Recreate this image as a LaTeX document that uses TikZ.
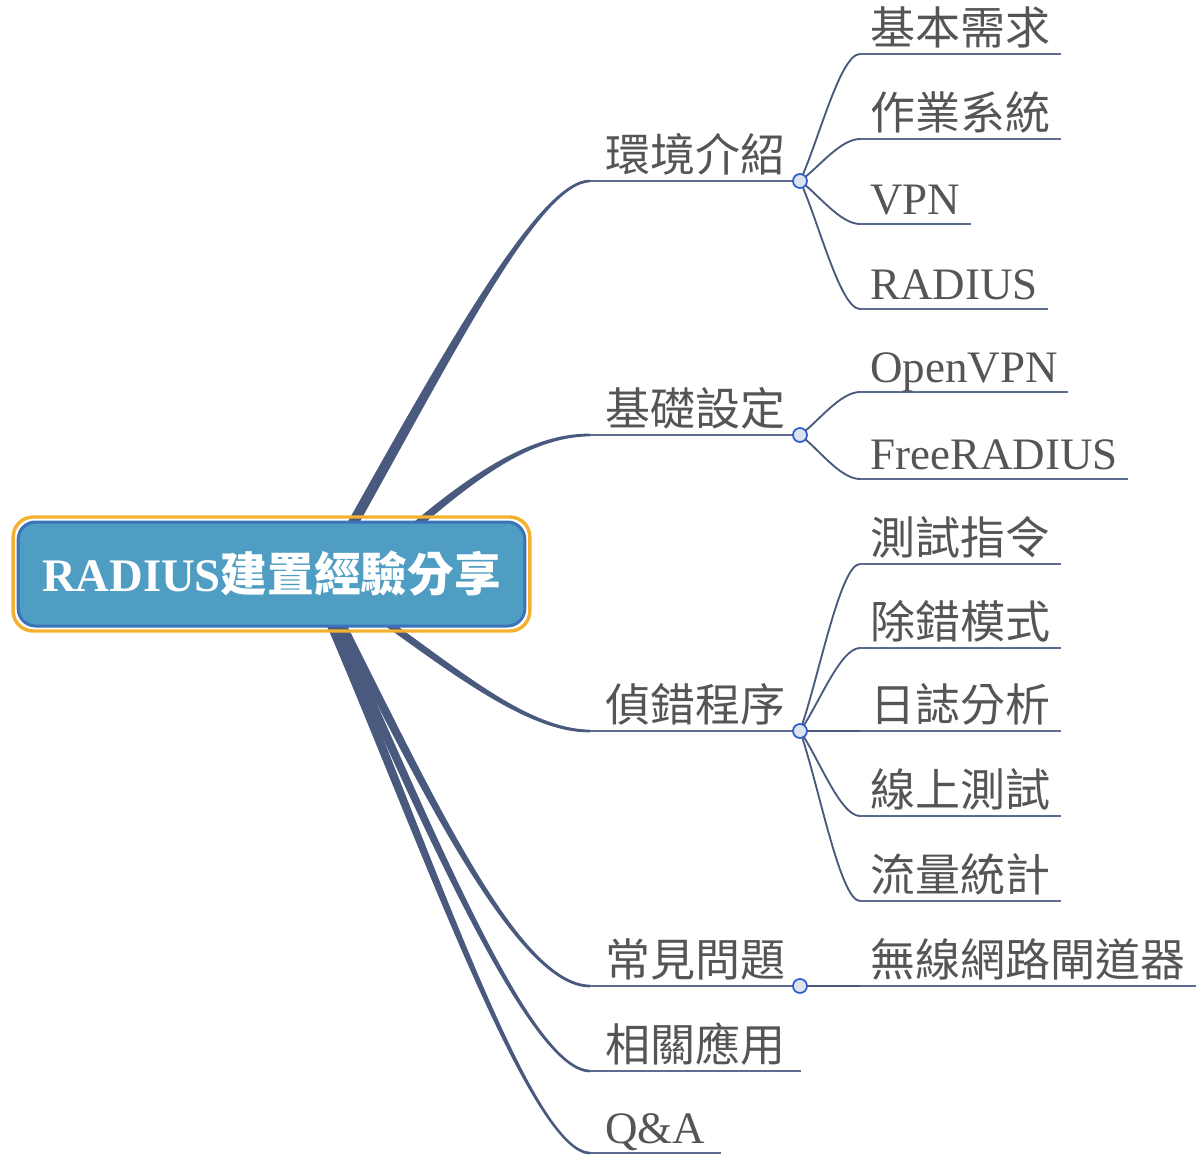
\documentclass[tikz,border=0pt]{standalone}
\usepackage{fontspec}
\setmainfont{Liberation Serif}
\newfontfamily\cjk{Noto Sans CJK TC}
\usetikzlibrary{calc,backgrounds}
\definecolor{branch}{HTML}{4A5A7E}
\definecolor{uline}{HTML}{5D6D92}
\definecolor{txt}{HTML}{555555}
\definecolor{rootfill}{HTML}{4F9DC3}
\definecolor{rootblue}{HTML}{3B72B8}
\definecolor{rootorange}{HTML}{F2B230}
\definecolor{dotfill}{HTML}{DCE2EE}
\definecolor{dotdraw}{HTML}{2F5BD0}
% tapered main branch: #1 start, #2 c1, #3 c2, #4 end, #5 start half width, #6/#7 end offsets
\newcommand\taper[7]{%
  \fill[branch] ($(#1)+(-#5,0)$) .. controls ($(#2)+(-#5*1.0,0)$) and ($(#3)+(0,#6*1.8)$) .. ($(#4)+(0,#6)$)
    -- ($(#4)+(0,#7)$) .. controls ($(#3)+(0,#7*1.8)$) and ($(#2)+(#5*1.0,0)$) .. ($(#1)+(#5,0)$) -- cycle;}
\tikzset{
  rootbox/.style={rounded corners=13pt, fill=rootfill, draw=rootblue, line width=2.25pt,
    minimum width=380pt, minimum height=78pt, inner sep=0pt, text=white,
    font=\fontsize{35}{40}\selectfont},
  lvone/.style={anchor=south west, inner xsep=11.25pt, inner ysep=0pt, text=txt,
    text height=30pt, text depth=6.75pt, font=\fontsize{33.75}{40}\selectfont},
  lvtwo/.style={anchor=south west, inner xsep=7.5pt, inner ysep=0pt, text=txt,
    text height=30pt, text depth=6.75pt, font=\fontsize{33.75}{40}\selectfont},
  dot/.style={circle, fill=dotfill, draw=dotdraw, line width=1.3pt, minimum size=10.5pt, inner sep=0pt},
  sub/.style={draw=branch, line width=1.4pt},
  ul/.style={draw=uline, line width=1.4pt},
}
\begin{document}
\begin{tikzpicture}[x=0.75pt,y=-0.75pt]
\useasboundingbox (0,0) rectangle (1202,1155);

% root
\node[rootbox] (root) at (271.5,574) {\textbf{RADIUS}{\cjk\bfseries 建置經驗分享}};
\draw[rootorange, line width=2.6pt, rounded corners=15pt]
  ([shift={(-3.5,-3.5)}]root.north west) rectangle ([shift={(3.5,3.5)}]root.south east);

% level one
\node[lvone] (m1) at (590,181) {\cjk 環境介紹};
\node[lvone] (m2) at (590,435) {\cjk 基礎設定};
\node[lvone] (m3) at (590,731) {\cjk 偵錯程序};
\node[lvone] (m4) at (590,986) {\cjk 常見問題};
\node[lvone] (m5) at (590,1071) {\cjk 相關應用};
\node[lvone] (m6) at (590,1153) {Q\&A};

\node[dot] (d1) at (800,181) {};
\node[dot] (d2) at (800,435) {};
\node[dot] (d3) at (800,731) {};
\node[dot] (d4) at (800,986) {};

% level two
\node[lvtwo] (a1) at (860,54) {\cjk 基本需求};
\node[lvtwo] (a2) at (860,139) {\cjk 作業系統};
\node[lvtwo] (a3) at (860,224) {VPN};
\node[lvtwo] (a4) at (860,309) {RADIUS};
\node[lvtwo] (b1) at (860,392) {OpenVPN};
\node[lvtwo] (b2) at (860,479) {FreeRADIUS};
\node[lvtwo] (c1) at (860,564) {\cjk 測試指令};
\node[lvtwo] (c2) at (860,648) {\cjk 除錯模式};
\node[lvtwo] (c3) at (860,731) {\cjk 日誌分析};
\node[lvtwo] (c4) at (860,816) {\cjk 線上測試};
\node[lvtwo] (c5) at (860,901) {\cjk 流量統計};
\node[lvtwo] (e1) at (860,986) {\cjk 無線網路閘道器};

\begin{pgfonlayer}{background}
  \coordinate (s1) at ($(root.north)+(77.5,10)$);
  \coordinate (s2) at ($(root.north)+(138.5,10)$);
  \coordinate (s3) at ($(root.south)+(113.5,-6)$);
  \coordinate (s4) at ($(root.south)+(68.5,-6)$);
  \coordinate (s5) at ($(root.south)+(63.5,-6)$);
  \coordinate (s6) at ($(root.south)+(58.5,-6)$);
  \taper{s1}{450,350}{540,181}{m1.south west}{6}{-1.3}{1.3}
  \taper{s2}{480,470}{535,435}{m2.south west}{6}{-1.3}{1.3}
  \taper{s3}{460,675}{530,731}{m3.south west}{6}{1.3}{-1.3}
  \taper{s4}{430,800}{520,986}{m4.south west}{5}{1.3}{-1.3}
  \taper{s5}{425,820}{530,1071}{m5.south west}{5}{1.3}{-1.3}
  \taper{s6}{420,830}{530,1153}{m6.south west}{5}{1.3}{-1.3}

  \foreach \d/\m in {d1/m1,d2/m2,d3/m3,d4/m4}
    \draw[ul] (\m.south west) -- (\d.center);
  \draw[ul] (m5.south west) -- (m5.south east);
  \draw[ul] (m6.south west) -- (m6.south east);

  \foreach \d/\n in {d1/a1,d1/a2,d1/a3,d1/a4,d2/b1,d2/b2,d3/c1,d3/c2,d3/c3,d3/c4,d3/c5,d4/e1}
    \draw[sub] (\d.center) .. controls ($(\d.center)!0.3!(\n.south west)$) and ($(\n.south west)+(-20,0)$) .. (\n.south west);
  \foreach \n in {a1,a2,a3,a4,b1,b2,c1,c2,c3,c4,c5,e1}
    \draw[ul] (\n.south west) -- (\n.south east);
\end{pgfonlayer}
\end{tikzpicture}
\end{document}
